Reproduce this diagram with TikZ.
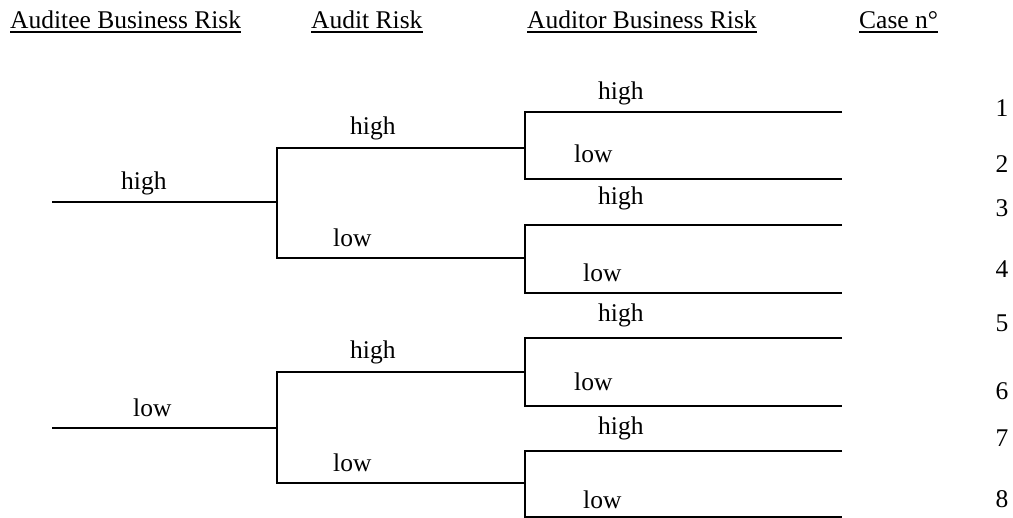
\documentclass[tikz,border=0pt]{standalone}
\usepackage{fontspec}
\setmainfont{Liberation Serif}
\begin{document}
\begin{tikzpicture}[x=1pt,y=-1pt,
  font=\fontsize{25.5}{30}\selectfont,
  lbl/.style={inner sep=0pt, anchor=base west},
  num/.style={inner sep=0pt, anchor=base},
  branch/.style={line width=1.7pt},
  rootline/.style={line width=1.5pt},
  uline/.style={line width=1.6pt}]
\useasboundingbox (0,0) rectangle (1013,518);

% headers
\node[lbl] (h1) at (10,28.5) {Auditee Business Risk};
\node[lbl] (h2) at (311,28.5) {Audit Risk};
\node[lbl] (h3) at (527,28.5) {Auditor Business Risk};
\node[lbl] (h4) at (859,28.5) {Case n°};
\foreach \h in {h1,h2,h3,h4}
  \draw[uline] ([yshift=-3.5pt]\h.base west) -- ([yshift=-3.5pt]\h.base east);

% tree points
\coordinate (r1) at (52,202);  \coordinate (j1) at (277,202);
\coordinate (j1a) at (277,148); \coordinate (j1b) at (277,258);
\coordinate (k1) at (525,148); \coordinate (k2) at (525,258);
\coordinate (k1t) at (525,112); \coordinate (k1b) at (525,179);
\coordinate (k2t) at (525,225); \coordinate (k2b) at (525,293);
\coordinate (e1) at (842,112); \coordinate (e2) at (842,179);
\coordinate (e3) at (842,225); \coordinate (e4) at (842,293);

\coordinate (r2) at (52,428);  \coordinate (j2) at (277,428);
\coordinate (j2a) at (277,372); \coordinate (j2b) at (277,483);
\coordinate (k3) at (525,372); \coordinate (k4) at (525,483);
\coordinate (k3t) at (525,338); \coordinate (k3b) at (525,406);
\coordinate (k4t) at (525,451); \coordinate (k4b) at (525,517);
\coordinate (e5) at (842,338); \coordinate (e6) at (842,406);
\coordinate (e7) at (842,451); \coordinate (e8) at (842,517);

% connectors
\draw[rootline] (r1) -- (j1);
\draw[branch] (k1) -- (j1a) -- (j1b) -- (k2);
\draw[branch] (e1) -- (k1t) -- (k1b) -- (e2);
\draw[branch] (e3) -- (k2t) -- (k2b) -- (e4);
\draw[rootline] (r2) -- (j2);
\draw[branch] (k3) -- (j2a) -- (j2b) -- (k4);
\draw[branch] (e5) -- (k3t) -- (k3b) -- (e6);
\draw[branch] (e7) -- (k4t) -- (k4b) -- (e8);

% level 1 labels
\node[lbl] (a1) at (121,190) {high};
\node[lbl] (a2) at (133,417) {low};
% level 2 labels
\node[lbl] (b1) at (350,134.5) {high};
\node[lbl] (b2) at (333,246.5) {low};
\node[lbl] (b3) at (350,358.5) {high};
\node[lbl] (b4) at (333,471.5) {low};
% level 3 labels
\node[lbl] (c1) at (598,100) {high};
\node[lbl] (c2) at (574,163) {low};
\node[lbl] (c3) at (598,205) {high};
\node[lbl] (c4) at (583,282) {low};
\node[lbl] (c5) at (598,322) {high};
\node[lbl] (c6) at (574,391) {low};
\node[lbl] (c7) at (598,435) {high};
\node[lbl] (c8) at (583,508.5) {low};

% case numbers
\node[num] (n1) at (1002,117) {1};
\node[num] (n2) at (1002,173) {2};
\node[num] (n3) at (1002,217) {3};
\node[num] (n4) at (1002,278) {4};
\node[num] (n5) at (1002,332) {5};
\node[num] (n6) at (1002,400) {6};
\node[num] (n7) at (1002,447) {7};
\node[num] (n8) at (1002,508) {8};
\end{tikzpicture}
\end{document}
